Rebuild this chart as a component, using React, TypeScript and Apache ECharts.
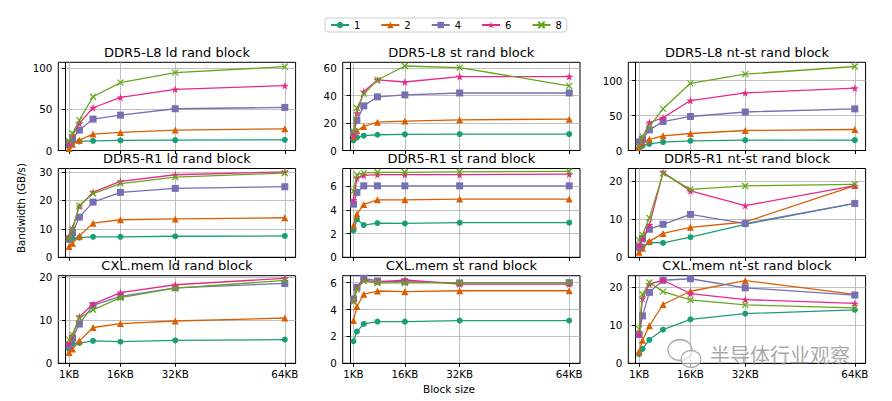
import { useEffect, useRef } from 'react';
import * as echarts from 'echarts';

const blockSizesKB = [1, 2, 4, 8, 16, 32, 64];
const xTickValues = [1, 16, 32, 64];
const threadCounts = ['1', '2', '4', '6', '8'];
const panelTitles = [
  'DDR5-L8 ld rand block', 'DDR5-L8 st rand block', 'DDR5-L8 nt-st rand block',
  'DDR5-R1 ld rand block', 'DDR5-R1 st rand block', 'DDR5-R1 nt-st rand block',
  'CXL.mem ld rand block', 'CXL.mem st rand block', 'CXL.mem nt-st rand block',
];

// each row: one thread count (1, 2, 4, 6, 8); each column: a block size
const ddr5L8Ld = [
  [4.5, 9.3, 11, 11.8, 12.2, 12.6, 13],
  [2.4, 7.7, 12.6, 20, 22, 24.8, 26.4],
  [9, 14.6, 24.8, 38.2, 43, 50.8, 52.4],
  [8.5, 18.7, 33, 52, 64.6, 74.4, 78.9],
  [11.8, 20.7, 37, 65.4, 82.5, 94.7, 102],
];
const ddr5L8St = [
  [7.4, 9.6, 10.8, 11.5, 11.8, 12, 12],
  [10.3, 14.4, 17.6, 20.7, 21.5, 22.4, 22.9],
  [12.7, 22, 32.6, 39.2, 40.6, 42, 42],
  [11.5, 27.3, 43, 51.5, 50, 54, 54],
  [14, 31, 41.3, 51.5, 61.7, 60.5, 47.2],
];
const ddr5L8NtSt = [
  [3.3, 6.7, 9.5, 12, 13.8, 14.8, 14.8],
  [4.8, 11.4, 16, 21, 24.3, 28.6, 30],
  [12.4, 16, 29.5, 41.4, 48.6, 55, 59.5],
  [8, 17.6, 40, 46.7, 71.4, 82.4, 89],
  [6.7, 20, 34, 59.5, 96, 109, 120],
];
const ddr5R1Ld = [
  [6.1, 6.7, 6.9, 7.2, 7.2, 7.4, 7.5],
  [3.8, 4.9, 7.5, 12, 13.2, 13.5, 13.9],
  [6.4, 8.7, 14.1, 19.4, 22.8, 24.2, 24.8],
  [7.3, 10.2, 17.9, 22.9, 26.7, 29, 30],
  [6.7, 9.9, 18.1, 22.4, 25.9, 28.2, 29.6],
];
const ddr5R1St = [
  [2.28, 3.2, 2.73, 2.9, 2.87, 2.93, 2.93],
  [2.7, 3.66, 4.48, 4.87, 4.87, 4.93, 4.93],
  [4.5, 5.5, 6.05, 6.05, 6.05, 6.05, 6.05],
  [4.85, 6.7, 6.93, 7.0, 7.0, 7.0, 7.04],
  [5.6, 7.0, 7.15, 7.2, 7.2, 7.24, 7.27],
];
const ddr5R1NtSt = [
  [2.2, 2.8, 3.9, 3.8, 5.3, 8.7, 14.2],
  [1.3, 2.4, 4.2, 6.3, 7.9, 9.3, 18.9],
  [2.8, 5, 7.4, 8.7, 11.3, 8.9, 14.2],
  [3.2, 4.7, 8.5, 22.4, 17.5, 13.6, 18.9],
  [4.6, 5.9, 10.4, 22.1, 17.9, 18.8, 19.2],
];
const cxlLd = [
  [3.3, 4.5, 4.7, 5.2, 5.0, 5.3, 5.5],
  [2.5, 3.3, 5.2, 8.3, 9.2, 9.8, 10.5],
  [4.2, 5.8, 9.1, 13.4, 15.5, 17.5, 18.5],
  [4.5, 6.4, 10.8, 13.7, 16.4, 18.2, 19.7],
  [5.5, 6.6, 10.5, 12.4, 15.2, 17.4, 19.2],
];
const cxlSt = [
  [1.64, 2.36, 2.93, 3.1, 3.1, 3.18, 3.18],
  [3.18, 4.22, 5.14, 5.38, 5.33, 5.4, 5.4],
  [4.79, 5.66, 6.33, 6.13, 6.08, 5.98, 6.0],
  [4.64, 5.58, 6.2, 6.03, 6.2, 5.9, 5.9],
  [4.6, 5.5, 6.13, 5.98, 5.98, 5.98, 5.98],
];
const cxlNtSt = [
  [2.4, 3.8, 6.2, 8.9, 11.6, 13.1, 14.1],
  [3.1, 6.1, 9.9, 15.5, 19, 21.8, 18.2],
  [7.6, 12.5, 18.7, 21.9, 22.3, 19.9, 18.0],
  [7.7, 17.1, 20.9, 21.9, 18.4, 16.8, 15.8],
  [9, 18.2, 21.3, 18.9, 16.7, 15.4, 14.6],
];

const panelData = [ddr5L8Ld, ddr5L8St, ddr5L8NtSt, ddr5R1Ld, ddr5R1St, ddr5R1NtSt, cxlLd, cxlSt, cxlNtSt];
const yAxisMax = [107.3, 64.4, 126, 31.2, 7.52, 23.4, 20.3, 6.52, 23.1];
const yTickStep = [50, 20, 50, 10, 2, 10, 10, 2, 10];

const colors = ['#1b9e77', '#d95f02', '#7570b3', '#e7298a', '#66a61e'];
const starPath = 'path://M50,0 L61,35 L98,35 L68,57 L79,91 L50,70 L21,91 L32,57 L2,35 L39,35 Z';
const xPath = 'path://M0,0L10,10M10,0L0,10';
const symbols = ['circle', 'triangle', 'rect', starPath, xPath];
const symbolSizes = [6, 7, 7, 8, 6];

const FONT = '"DejaVu Sans", sans-serif';
const gridLefts = [58.3, 342.7, 628.3];
const gridWidth = 237.3;
const gridTops = [62.3, 168.5, 275.7];
const gridHeights = [88.2, 88.8, 87.6];

export default function App() {
  const ref = useRef<HTMLDivElement>(null);
  useEffect(() => {
    if (!ref.current) return;
    const chart = echarts.init(ref.current, null, { renderer: 'svg' });
    const grids: any[] = [];
    const xAxes: any[] = [];
    const yAxes: any[] = [];
    const series: any[] = [];
    const graphics: any[] = [];
    for (let i = 0; i < 9; i++) {
      const r = Math.floor(i / 3);
      const c = i % 3;
      grids.push({
        left: gridLefts[c], top: gridTops[r], width: gridWidth, height: gridHeights[r],
        show: true, borderColor: '#000', borderWidth: 1, backgroundColor: 'transparent',
      });
      xAxes.push({
        type: 'value', gridIndex: i, min: -2.15, max: 67.15,
        axisLine: { show: true, onZero: false, lineStyle: { color: '#000', width: 1 } },
        axisTick: { show: true, length: 3.5, customValues: xTickValues, lineStyle: { color: '#000' } },
        axisLabel: {
          show: r === 2, customValues: xTickValues, margin: 6,
          formatter: (v: number) => `${v}KB`, color: '#000', fontSize: 10.3, fontFamily: FONT,
        },
        splitLine: { show: true, lineStyle: { color: '#b0b0b0', width: 0.8 } },
      });
      const yTicks: number[] = [];
      for (let v = 0; v <= yAxisMax[i] + 1e-9; v += yTickStep[i]) yTicks.push(v);
      yAxes.push({
        type: 'value', gridIndex: i, min: 0, max: yAxisMax[i],
        axisLine: { show: true, lineStyle: { color: '#000', width: 1 } },
        axisTick: { show: true, length: 3.5, customValues: yTicks, lineStyle: { color: '#000' } },
        axisLabel: { customValues: yTicks, margin: 6, color: '#000', fontSize: 10.3, fontFamily: FONT },
        splitLine: { show: true, lineStyle: { color: '#b0b0b0', width: 0.8 } },
      });
      panelData[i].forEach((vals, t) => {
        series.push({
          type: 'line', name: threadCounts[t], xAxisIndex: i, yAxisIndex: i,
          data: blockSizesKB.map((x, k) => [x, vals[k]]),
          symbol: symbols[t], symbolSize: symbolSizes[t],
          lineStyle: { color: colors[t], width: 1.3 },
          itemStyle: t === 4
            ? { color: colors[t], borderColor: colors[t], borderWidth: 1.2 }
            : { color: colors[t], borderWidth: 0 },
          z: 2 + t,
          emphasis: { disabled: true },
        });
      });
      graphics.push({
        type: 'text', x: gridLefts[c] + gridWidth / 2, y: gridTops[r] - 10,
        style: { text: panelTitles[i], fill: '#000', font: `13px ${FONT}`, align: 'center', verticalAlign: 'middle' },
      });
    }
    graphics.push({
      type: 'text', x: 21, y: 208, rotation: Math.PI / 2,
      style: { text: 'Bandwidth (GB/s)', fill: '#000', font: `10.3px ${FONT}`, align: 'center', verticalAlign: 'middle' },
    });
    graphics.push({
      type: 'text', x: 449, y: 389,
      style: { text: 'Block size', fill: '#000', font: `10.5px ${FONT}`, align: 'center', verticalAlign: 'middle' },
    });
    // watermark
    graphics.push({
      type: 'ellipse', shape: { cx: 680, cy: 350, rx: 12, ry: 10.5 },
      style: { fill: 'rgba(255,255,255,0.5)', stroke: 'rgba(150,150,150,0.8)', lineWidth: 1.3 }, z: 100,
    });
    graphics.push({
      type: 'ellipse', shape: { cx: 691, cy: 359, rx: 10, ry: 8.5 },
      style: { fill: 'rgba(255,255,255,0.6)', stroke: 'rgba(150,150,150,0.8)', lineWidth: 1.3 }, z: 101,
    });
    graphics.push({
      type: 'text', x: 710, y: 354,
      style: { text: '半导体行业观察', fill: 'rgba(140,140,140,0.75)', font: '20px "Noto Sans CJK SC"', align: 'left', verticalAlign: 'middle' },
      z: 102,
    });

    chart.setOption({
      animation: false,
      legend: {
        data: threadCounts, left: 325, top: 18, orient: 'horizontal',
        padding: [2, 5], itemWidth: 18, itemHeight: 8, itemGap: 20,
        borderColor: '#cccccc', borderWidth: 1, borderRadius: 3,
        textStyle: { fontSize: 10, fontFamily: FONT, color: '#000' },
      },
      grid: grids, xAxis: xAxes, yAxis: yAxes, series, graphic: graphics,
    });
    return () => chart.dispose();
  }, []);
  return <div ref={ref} style={{ position: 'fixed', left: 0, top: 0, width: 892, height: 401, background: '#fff' }} />;
}
